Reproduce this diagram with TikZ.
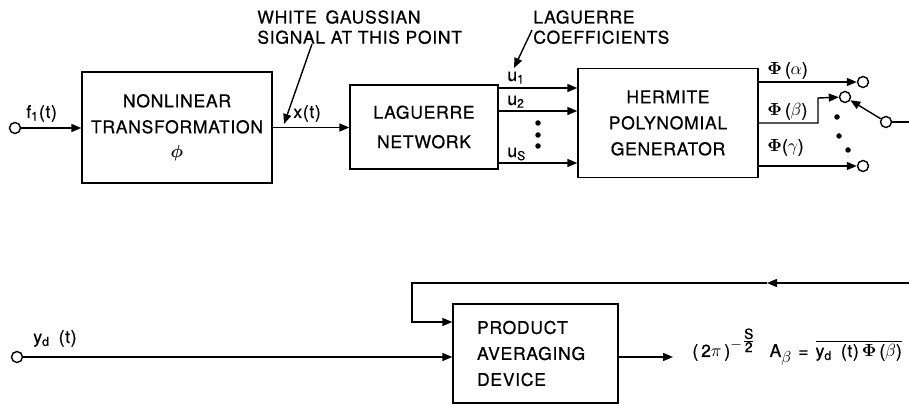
\documentclass[tikz,border=0pt]{standalone}
\usepackage{amsmath,amssymb}
\usepackage{fontspec}
\setmainfont{TeX Gyre Heros}[LetterSpace=4,FakeBold=0.6]
\usetikzlibrary{calc,arrows.meta}
\tikzset{
  blk/.style={draw,line width=0.8pt,align=center,font=\fontsize{10}{14.8}\selectfont},
  sig/.style={line width=0.8pt,-{Triangle[length=0.2cm,width=0.16cm]}},
  wire/.style={line width=0.8pt},
  term/.style={circle,draw,line width=0.8pt,minimum size=0.22cm,inner sep=0pt},
  lbl/.style={font=\fontsize{10}{11.5}\selectfont,inner sep=0pt},
  bigdot/.style={circle,fill,minimum size=0.11cm,inner sep=0pt}
}

\begin{document}
\begin{tikzpicture}[x=0.02cm,y=-0.02cm]
\useasboundingbox (0,0) rectangle (909,404);
% blocks
\node[blk,minimum width=3.8cm,minimum height=2.22cm] (nlt) at (177,127.5) {NONLINEAR\\TRANSFORMATION\\[-1pt]$\boldsymbol{\phi}$};
\node[blk,minimum width=2.96cm,minimum height=1.68cm] (lag) at (424,127) {LAGUERRE\\[2pt]NETWORK};
\node[blk,minimum width=3.6cm,minimum height=2.18cm] (her) at (668,123) {HERMITE\\POLYNOMIAL\\GENERATOR};
\node[blk,align=left,text width=2.34cm,inner xsep=0.48cm,minimum height=1.98cm] (prod) at (535.5,353.5) {PRODUCT\\AVERAGING\\DEVICE};

% terminals
\node[term] (fin) at (15,128) {};
\node[term] (yd) at (17,357) {};
\node[term] (ta) at (863,82) {};
\node[term] (tb) at (845,97) {};
\node[term] (tc) at (863,166) {};
\node[term] (sw) at (886,122) {};
\coordinate (swout) at (909,122);
\coordinate (bk) at (818,98);
\coordinate (fbin) at (909,283);
\coordinate (fbmid) at (767,283);
\coordinate (fbc) at (412,283);
\coordinate (avgout) at (673,357);

% upper path
\draw[sig] (fin) -- (nlt.west|-fin);
\draw[sig] (nlt.east) -- (lag.west|-nlt.east);
\draw[sig] (lag.east|-0,88) -- (her.west|-0,88);
\draw[sig] (lag.east|-0,111) -- (her.west|-0,111);
\draw[sig] (lag.east|-0,163) -- (her.west|-0,163);
\foreach \yy in {123,135,146} \node[bigdot] at (538,\yy) {};
\draw[sig] (her.east|-ta) -- (ta);
\draw[sig] (her.east|-0,123) -- (bk|-0,123) -- (bk) -- (tb);
\draw[sig] (her.east|-tc) -- (tc);
\draw[sig] (sw) -- (tb);
\draw[wire] (sw) -- (swout);
\node[bigdot] at (837,117) {};
\node[bigdot] at (839,136) {};
\node[bigdot] at (848,150) {};

% lower path
\draw[sig] (fbin) -- (fbmid);
\draw[sig] (fbmid) -- (fbc) |- (prod.west|-0,322);
\draw[sig] (yd) -- (prod.west|-yd);
\draw[sig] (prod.east|-avgout) -- (avgout);

% labels
\node[lbl,anchor=base west] (lfin) at (26,118) {f\textsubscript{1}(t)};
\node[lbl,anchor=base west] (lx) at (293,118) {x(t)};
\node[lbl,anchor=north west,align=left] (lwg) at (257,10) {WHITE\enspace GAUSSIAN\\SIGNAL AT THIS POINT};
\coordinate (wgp) at (312,44);
\coordinate (xpt) at (284,124);
\draw[sig] (wgp) -- (xpt);
\node[lbl,anchor=north west,align=left] (llc) at (533,10) {LAGUERRE\\COEFFICIENTS};
\coordinate (lcp) at (532,30);
\coordinate (upt) at (514,68);
\draw[sig] (lcp) -- (upt);
\node[lbl,anchor=base west] (lu1) at (507,81) {u\textsubscript{1}};
\node[lbl,anchor=base west] (lu2) at (507,105) {u\textsubscript{2}};
\node[lbl,anchor=base west] (lus) at (507,157) {u\textsubscript{S}};
\node[lbl,anchor=base west] (lpa) at (767,75) {$\boldsymbol{\Phi}$\,($\alpha$)};
\node[lbl,anchor=base west] (lpb) at (767,116) {$\boldsymbol{\Phi}$\,($\beta$)};
\node[lbl,anchor=base west] (lpc) at (767,152) {$\boldsymbol{\Phi}$($\gamma$)};
\node[lbl,anchor=base west] (lyd) at (33,343) {y\textsubscript{d}\enspace(t)};
\node[lbl,anchor=base west] (res) at (692,357) {(\,2$\pi$\,)\raisebox{5pt}{\footnotesize$-$\raisebox{2pt}{$\frac{\mbox{\footnotesize S}}{\mbox{\footnotesize 2}}$}}\hspace{8pt}A\raisebox{-3pt}{\small$\beta$}\hspace{4pt}=\hspace{4pt}$\overline{\mbox{y\textsubscript{d}\enspace(t)\,$\boldsymbol{\Phi}$\,($\beta$)}}$};
\end{tikzpicture}
\end{document}
